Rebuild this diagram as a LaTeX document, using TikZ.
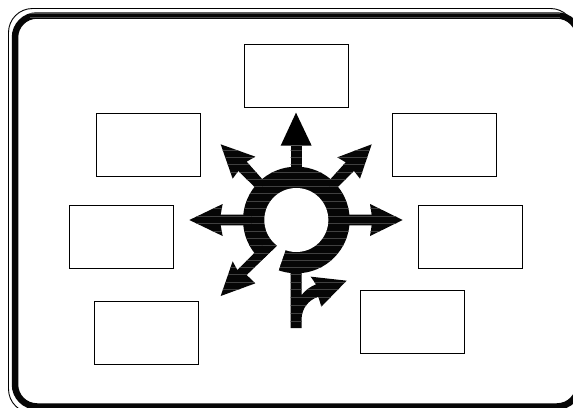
\documentclass[tikz,border=0pt]{standalone}
\definecolor{ink}{HTML}{060606}
\tikzset{
  box/.style={draw=black,line width=.9pt,fill=white,minimum width=104.6pt,minimum height=63pt,inner sep=0pt},
  glyph/.style={x=.33333pt,y=-.33333pt,shift={(180pt,-100pt)}}
}
\newcommand{\inked}[1]{%
  \fill[ink] #1;
  \begin{scope}
    \clip #1;
    \foreach \yy in {151,172,193,217,238,259,280,304,325,349,370,394,415,436,460,481,502,523,547,568,592,616,640,664}
      \draw[black!75,line width=.35pt] (0,\yy) -- (700,\yy);
  \end{scope}}
\begin{document}
\begin{tikzpicture}[x=1pt,y=-1pt]
\useasboundingbox (0,0) rectangle (573,407);
\fill[white] (0,0) rectangle (573,407);
\begin{scope}
  \clip (0,0) rectangle (573,407);
  \draw[black,line width=.9pt,rounded corners=24pt] (8.5,413) -- (8.5,8.5) -- (574.5,8.5) -- (574.5,413) -- cycle;
  \draw[ink,line width=6.5pt,rounded corners=22pt] (15,406.5) -- (15,15.5) -- (579,15.5) -- (579,406.5) -- cycle;
  \foreach \yy in {13.5,17.5}
    \draw[black!70,line width=.35pt] (30,\yy) -- (560,\yy);
\end{scope}

\node[box] (boxN)  at (296.5,75.5) {};
\node[box] (boxNW) at (148.5,145)  {};
\node[box] (boxNE) at (444.5,145)  {};
\node[box] (boxW)  at (121.5,236.5) {};
\node[box] (boxE)  at (470.5,236.5) {};
\node[box] (boxSW) at (146.5,332.5) {};
\node[box] (boxSE) at (412.5,321.5) {};

\begin{scope}[glyph]
  % ring body
  \inked{(349,360) circle[radius=160]}
  % opening in the ring
  \fill[white] (305,420) -- (291,437) -- (200,525) -- (285,542) -- (295,513) -- (316,452) -- (325,420) -- cycle;
  % up
  \fill[black] (348,38) -- (395,137) -- (302,137) -- cycle;
  \inked{(332,137) -- (365,137) -- (365,215) -- (332,215) -- cycle}
  % north-west
  \inked{(122,133) -- (226,170) -- (200,185) -- (258,250) -- (235,272) -- (175,213) -- (158,236) -- cycle}
  % north-east
  \inked{(575,133) -- (540,236) -- (522,213) -- (462,272) -- (440,250) -- (497,187) -- (472,172) -- cycle}
  % west
  \inked{(28,360) -- (128,312) -- (122,344) -- (215,344) -- (215,376) -- (122,376) -- (128,408) -- cycle}
  % east
  \inked{(668,360) -- (570,408) -- (575,376) -- (480,376) -- (480,344) -- (575,344) -- (570,312) -- cycle}
  % south-west
  \inked{(291,437) -- (200,525) -- (226,550) -- (122,588) -- (158,484) -- (172,510) -- (222,460) -- (262,422) -- cycle}
  % south with branch
  \inked{(332,505) -- (365,505) -- (365,585) .. controls (375,572) and (390,560) .. (408,553) -- (392,530) -- (500,542) -- (424,620) -- (415,590) .. controls (385,600) and (367,625) .. (365,652) -- (365,684) -- (332,684) -- cycle}
  % hole
  \fill[white] (349,360) circle[radius=96];
\end{scope}
\end{tikzpicture}
\end{document}
